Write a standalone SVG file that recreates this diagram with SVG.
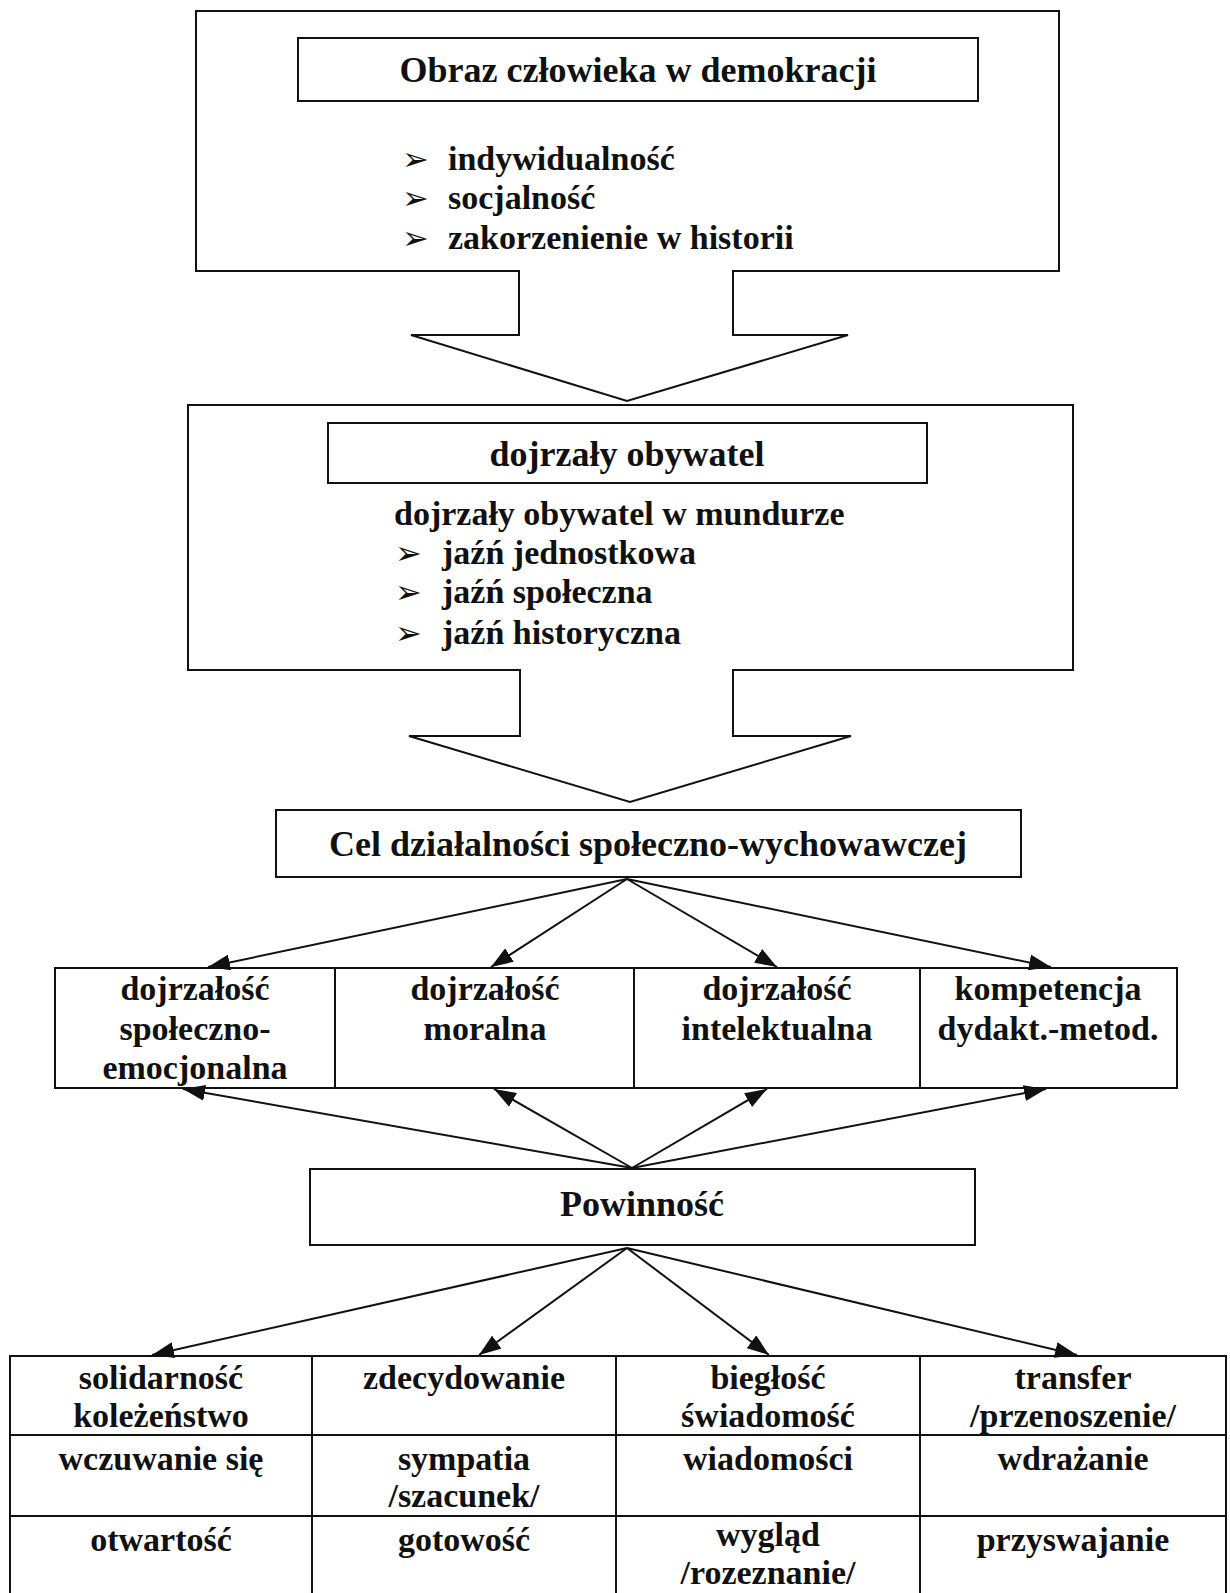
<svg xmlns="http://www.w3.org/2000/svg" width="1230" height="1593" viewBox="0 0 1230 1593">
<style>
  .box { fill: #ffffff; stroke: #111; stroke-width: 2; }
  .t { font-family: "Liberation Serif", "Times New Roman", serif; font-weight: bold; fill: #111; }
  .h { font-size: 36px; text-anchor: middle; }
  .b { font-size: 34px; }
  .c { font-size: 34px; text-anchor: middle; }
  .bul { font-family: "DejaVu Sans", sans-serif; font-size: 32px; fill: #111; }
  .ln { stroke: #111; stroke-width: 2; fill: none; }
  .blk { fill: #ffffff; stroke: none; }
</style>
<defs>
  <marker id="ah" markerUnits="userSpaceOnUse" viewBox="0 0 22 16" refX="22" refY="8" markerWidth="22" markerHeight="16" orient="auto">
    <path d="M0,0 L22,8 L0,16 z" fill="#111"/>
  </marker>
</defs>
<rect width="1230" height="1593" fill="#ffffff"/>

<g id="node-obraz">
  <rect class="box" x="196" y="11" width="863" height="260"/>
  <rect class="box" x="298" y="38" width="680" height="63"/>
  <text class="t h" x="638" y="82">Obraz człowieka w demokracji</text>
  <text class="bul" x="402" y="170">➢</text>
  <text class="t b" x="448" y="170">indywidualność</text>
  <text class="bul" x="402" y="209">➢</text>
  <text class="t b" x="448" y="209">socjalność</text>
  <text class="bul" x="402" y="249">➢</text>
  <text class="t b" x="448" y="249">zakorzenienie w historii</text>
</g>

<g id="node-obywatel">
  <rect class="box" x="188" y="405" width="885" height="265"/>
  <rect class="box" x="328" y="423" width="599" height="60"/>
  <text class="t h" x="627" y="466">dojrzały obywatel</text>
  <text class="t b" x="394" y="525">dojrzały obywatel w mundurze</text>
  <text class="bul" x="395" y="564">➢</text>
  <text class="t b" x="442" y="564">jaźń jednostkowa</text>
  <text class="bul" x="395" y="603">➢</text>
  <text class="t b" x="442" y="603">jaźń społeczna</text>
  <text class="bul" x="395" y="644">➢</text>
  <text class="t b" x="442" y="644">jaźń historyczna</text>
</g>

<g id="node-cel">
  <rect class="box" x="276" y="810" width="745" height="67"/>
  <text class="t h" x="648" y="856">Cel działalności społeczno-wychowawczej</text>
</g>

<g id="node-dojrzalosc">
  <rect class="box" x="55" y="968" width="1122" height="120"/>
  <line class="ln" x1="335" y1="968" x2="335" y2="1088"/>
  <line class="ln" x1="634" y1="968" x2="634" y2="1088"/>
  <line class="ln" x1="920" y1="968" x2="920" y2="1088"/>
  <text class="t c" x="195" y="1000">dojrzałość</text>
  <text class="t c" x="195" y="1040">społeczno-</text>
  <text class="t c" x="195" y="1079">emocjonalna</text>
  <text class="t c" x="485" y="1000">dojrzałość</text>
  <text class="t c" x="485" y="1040">moralna</text>
  <text class="t c" x="777" y="1000">dojrzałość</text>
  <text class="t c" x="777" y="1040">intelektualna</text>
  <text class="t c" x="1048" y="1000">kompetencja</text>
  <text class="t c" x="1048" y="1040">dydakt.-metod.</text>
</g>

<g id="node-powinnosc">
  <rect class="box" x="310" y="1169" width="665" height="76"/>
  <text class="t h" x="642" y="1216">Powinność</text>
</g>

<g id="node-tabela">
  <rect class="box" x="10" y="1356" width="1216" height="250"/>
  <line class="ln" x1="10" y1="1435" x2="1226" y2="1435"/>
  <line class="ln" x1="10" y1="1516" x2="1226" y2="1516"/>
  <line class="ln" x1="312" y1="1356" x2="312" y2="1600"/>
  <line class="ln" x1="616" y1="1356" x2="616" y2="1600"/>
  <line class="ln" x1="920" y1="1356" x2="920" y2="1600"/>
  <text class="t c" x="161" y="1389">solidarność</text>
  <text class="t c" x="161" y="1427">koleżeństwo</text>
  <text class="t c" x="464" y="1389">zdecydowanie</text>
  <text class="t c" x="768" y="1389">biegłość</text>
  <text class="t c" x="768" y="1427">świadomość</text>
  <text class="t c" x="1073" y="1389">transfer</text>
  <text class="t c" x="1073" y="1427">/przenoszenie/</text>
  <text class="t c" x="161" y="1470">wczuwanie się</text>
  <text class="t c" x="464" y="1470">sympatia</text>
  <text class="t c" x="464" y="1507">/szacunek/</text>
  <text class="t c" x="768" y="1470">wiadomości</text>
  <text class="t c" x="1073" y="1470">wdrażanie</text>
  <text class="t c" x="161" y="1551">otwartość</text>
  <text class="t c" x="464" y="1551">gotowość</text>
  <text class="t c" x="768" y="1546">wygląd</text>
  <text class="t c" x="768" y="1584">/rozeznanie/</text>
  <text class="t c" x="1073" y="1551">przyswajanie</text>
</g>

<g id="connectors">
  <polygon class="blk" points="520,268 520,335 411,335 627,401 848,335 732,335 732,268"/>
  <polyline class="ln" points="519,271 519,335 411,335 627,401 848,335 733,335 733,271"/>
  <polygon class="blk" points="521,667 521,736 409,736 630,802 851,736 732,736 732,667"/>
  <polyline class="ln" points="520,670 520,736 409,736 630,802 851,736 733,736 733,670"/>

  <line class="ln" x1="627" y1="879" x2="208" y2="967" marker-end="url(#ah)"/>
  <line class="ln" x1="627" y1="879" x2="491" y2="967" marker-end="url(#ah)"/>
  <line class="ln" x1="627" y1="879" x2="777" y2="967" marker-end="url(#ah)"/>
  <line class="ln" x1="627" y1="879" x2="1051" y2="967" marker-end="url(#ah)"/>

  <line class="ln" x1="632" y1="1168" x2="183" y2="1089" marker-end="url(#ah)"/>
  <line class="ln" x1="632" y1="1168" x2="494" y2="1089" marker-end="url(#ah)"/>
  <line class="ln" x1="632" y1="1168" x2="767" y2="1089" marker-end="url(#ah)"/>
  <line class="ln" x1="632" y1="1168" x2="1046" y2="1089" marker-end="url(#ah)"/>

  <line class="ln" x1="627" y1="1248" x2="152" y2="1355" marker-end="url(#ah)"/>
  <line class="ln" x1="627" y1="1248" x2="479" y2="1355" marker-end="url(#ah)"/>
  <line class="ln" x1="627" y1="1248" x2="769" y2="1355" marker-end="url(#ah)"/>
  <line class="ln" x1="627" y1="1248" x2="1077" y2="1355" marker-end="url(#ah)"/>
</g>
</svg>
